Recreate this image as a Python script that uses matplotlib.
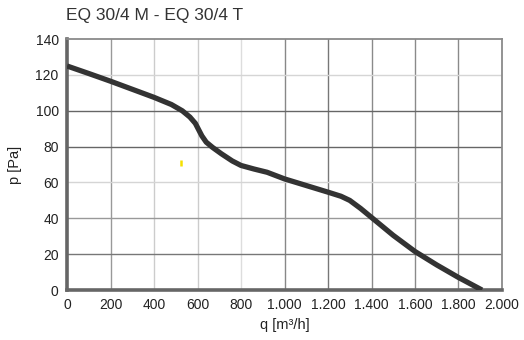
import matplotlib

matplotlib.use("Agg")
import matplotlib.pyplot as plt

# fan curve
q = [0, 100, 200, 300, 400, 480, 530, 565, 590, 605, 620, 640, 670, 710, 760, 800, 860, 920,
     1000, 1100, 1200, 1260, 1300, 1350, 1400, 1500, 1600, 1700, 1800, 1908]
p = [125, 120.8, 116.5, 112, 107.5, 103.5, 100, 96.5, 93, 89.5, 86, 82.5, 79.5, 76, 72, 69.5, 67.5, 65.7,
     62, 58.3, 54.6, 52.3, 50, 45.5, 40.5, 30.5, 21.5, 14, 7, 0]

# the small yellow mark in the original
mark_q = [524]
mark_p = [71]

xticks = list(range(0, 2001, 200))
xlabels = ["0", "200", "400", "600", "800", "1.000", "1.200", "1.400", "1.600", "1.800", "2.000"]
yticks = list(range(0, 141, 20))

# gridline shades vary in the original
xgrid_colors = {200: "#999999", 400: "#cccccc", 600: "#cccccc", 800: "#dddddd", 1000: "#888888",
                1200: "#777777", 1400: "#8a8a8a", 1600: "#8a8a8a", 1800: "#8a8a8a"}
ygrid_colors = {20: "#777777", 40: "#999999", 60: "#d5d5d5", 80: "#666666", 100: "#666666", 120: "#d5d5d5"}

plt.rcParams["font.family"] = ["Liberation Sans", "DejaVu Sans"]

fig = plt.figure(figsize=(5.24, 3.40), dpi=100)
ax = fig.add_axes([0.1279, 0.147, 0.958 - 0.1279, 0.885 - 0.147])

for x, c in xgrid_colors.items():
    ax.axvline(x, color=c, lw=1.0, zorder=1)
for y, c in ygrid_colors.items():
    ax.axhline(y, color=c, lw=1.0, zorder=1)

ax.plot(q, p, color="#333333", lw=3.8, solid_capstyle="butt", solid_joinstyle="round", zorder=3)
ax.plot(mark_q, mark_p, marker="|", color="#f5e000", ms=5, mew=1.8, ls="none", zorder=3)

ax.set_xlim(0, 2000)
ax.set_ylim(0, 140)
ax.set_xticks(xticks, xlabels)
ax.set_yticks(yticks)
ax.tick_params(length=0, labelsize=10, colors="#222222", pad=6)

for side in ("left", "bottom"):
    ax.spines[side].set_color("#666666")
    ax.spines[side].set_linewidth(2.6)
for side in ("top", "right"):
    ax.spines[side].set_color("#8a8a8a")
    ax.spines[side].set_linewidth(1.3)

ax.set_xlabel("q [m³/h]", fontsize=10.5, color="#222222", labelpad=4)
ax.set_ylabel("p [Pa]", fontsize=10.5, color="#222222", labelpad=10)

fig.text(0.126, 0.955, "EQ 30/4 M - EQ 30/4 T", fontsize=12.5, color="#333333",
         ha="left", va="center")

fig.savefig("out.png", dpi=100)
